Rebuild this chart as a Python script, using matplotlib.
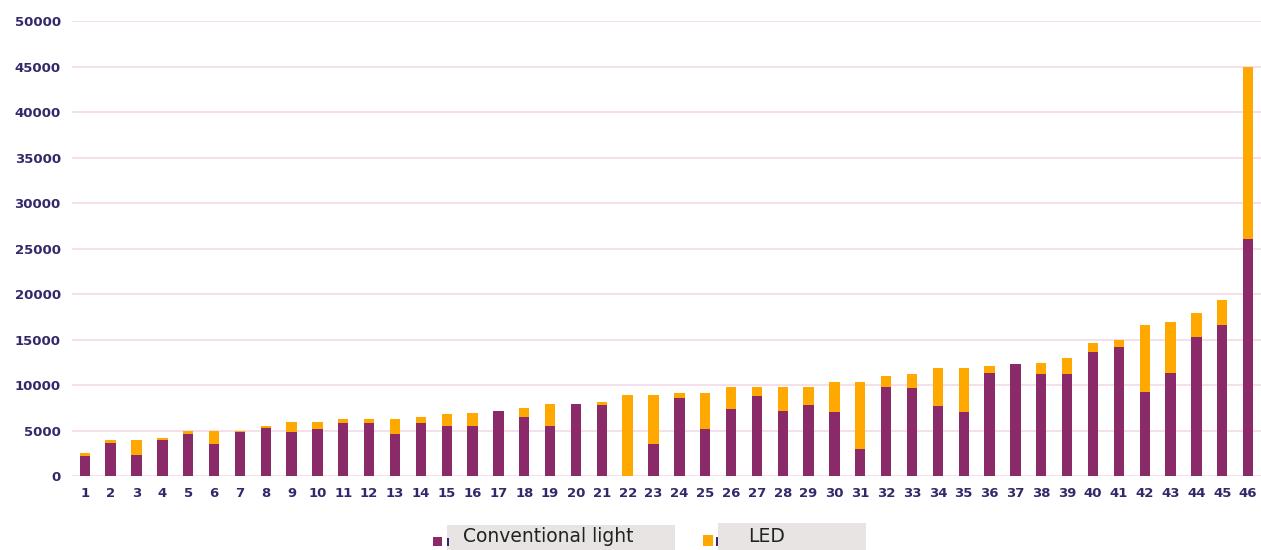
import matplotlib
matplotlib.use("Agg")
import matplotlib.pyplot as plt
from matplotlib.patches import Rectangle
import numpy as np

# data
sites = list(range(1, 47))
conventional = [2200, 3660, 2340, 4000, 4650, 3510, 4830, 5300, 4830, 5160,
                5820, 5820, 4610, 5780, 5450, 5450, 7100, 6440, 5450, 7910,
                7760, 0, 3520, 8570, 5210, 7360, 8830, 7190, 7850, 7040,
                2930, 9780, 9640, 7690, 7040, 11290, 12310, 11170, 11170, 13600,
                14170, 9220, 11320, 15250, 16570, 26050]
total = [2530, 3990, 4000, 4170, 4980, 4980, 4980, 5450, 5970, 5970,
         6300, 6300, 6260, 6480, 6770, 6920, 7100, 7430, 7910, 7910,
         8090, 8900, 8900, 9080, 9120, 9780, 9780, 9780, 9780, 10300,
         10300, 10960, 11250, 11910, 11910, 12090, 12310, 12450, 12940, 14590,
         14920, 16570, 16900, 17900, 19360, 45000]
led = [t - c for t, c in zip(total, conventional)]

purple = "#8a2a68"
orange = "#ffa800"
tickcol = "#35286a"

fig = plt.figure(figsize=(12.61, 5.5), dpi=100)
ax = fig.add_axes([0.057, 0.1345, 0.943, 0.8273])

ax.bar(sites, conventional, width=0.4, color=purple, zorder=3)
ax.bar(sites, led, bottom=conventional, width=0.4, color=orange, zorder=3)

ax.set_xlim(0.5, 46.5)
ax.set_ylim(0, 50000)
ax.set_yticks(np.arange(0, 50001, 5000))
ax.set_xticks(sites)
ax.set_xticklabels([str(s) for s in sites])
ax.grid(axis="y", color="#f3d9e8", linewidth=1.2, zorder=0)
for s in ax.spines.values():
    s.set_visible(False)
ax.tick_params(length=0, labelsize=9.5, labelcolor=tickcol, pad=8)
for lbl in ax.get_xticklabels() + ax.get_yticklabels():
    lbl.set_fontweight("bold")

# legend at the bottom, grey label boxes as in the original
W, H = 1261.0, 550.0
def box(x0, y0, x1, y1, color):
    fig.patches.append(Rectangle((x0 / W, 1 - y1 / H), (x1 - x0) / W, (y1 - y0) / H,
                                 transform=fig.transFigure, facecolor=color,
                                 edgecolor="none"))

box(447, 525, 675, 551, "#e8e4e4")
box(718, 523, 866, 551, "#e8e4e4")
box(433, 537, 442, 546, purple)
box(703, 535, 713, 546, orange)
box(447, 538, 449, 546, tickcol)
box(716, 537, 718, 546, tickcol)
fig.text(463 / W, 1 - 537 / H, "Conventional light", fontsize=13.5,
         color="#222222", va="center", ha="left")
fig.text(748 / W, 1 - 536 / H, "LED", fontsize=13.5,
         color="#222222", va="center", ha="left")

fig.savefig("out.png", dpi=100)
